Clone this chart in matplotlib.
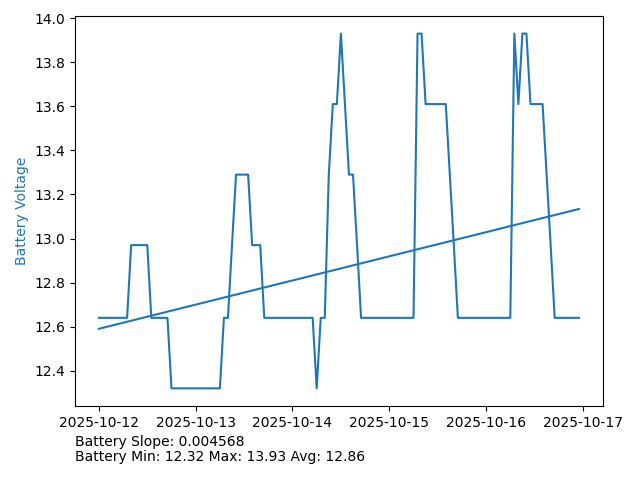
import numpy as np
import pandas as pd
import matplotlib
matplotlib.use("Agg")
import matplotlib.pyplot as plt
import matplotlib.dates as mdates

# hourly battery readings, 2025-10-12 00:00 .. 2025-10-16 23:00
start = "2025-10-12 00:00"
voltage = (
    [12.64] * 8 + [12.97] * 5 + [12.64] * 5 + [12.32] * 13 + [12.64] * 2
    + [12.97] + [13.29] * 4 + [12.97] * 3 + [12.64] * 13 + [12.32]
    + [12.64] * 2 + [13.29] + [13.61] * 2 + [13.93] + [13.61] + [13.29] * 2
    + [12.97] + [12.64] * 14 + [13.93] * 2 + [13.61] * 6 + [13.29] + [12.97]
    + [12.64] * 14 + [13.93] + [13.61] + [13.93] * 2 + [13.61] * 4 + [13.29]
    + [12.97] + [12.64] * 7
)
slope_text = "Battery Slope: 0.004568"
stats_text = "Battery Min: 12.32 Max: 13.93 Avg: 12.86"

times = pd.date_range(start, periods=len(voltage), freq="h")
v = np.array(voltage)
idx = np.arange(len(v))
m, b = np.polyfit(idx, v, 1)
trend = m * idx + b

fig, ax = plt.subplots(figsize=(6.4, 4.8), dpi=100)
ax.plot(times, v, color="tab:blue")
ax.plot(times, trend, color="tab:blue")
ax.set_ylabel("Battery Voltage", color="tab:blue")
ax.xaxis.set_major_locator(mdates.DayLocator())
ax.xaxis.set_major_formatter(mdates.DateFormatter("%Y-%m-%d"))

fig.subplots_adjust(left=0.117, right=0.942, top=0.967, bottom=0.154)
fig.text(0.117, 0.033, slope_text + "\n" + stats_text, ha="left", va="bottom",
         fontsize=10, linespacing=1.1)
fig.savefig("out.png", dpi=100)
